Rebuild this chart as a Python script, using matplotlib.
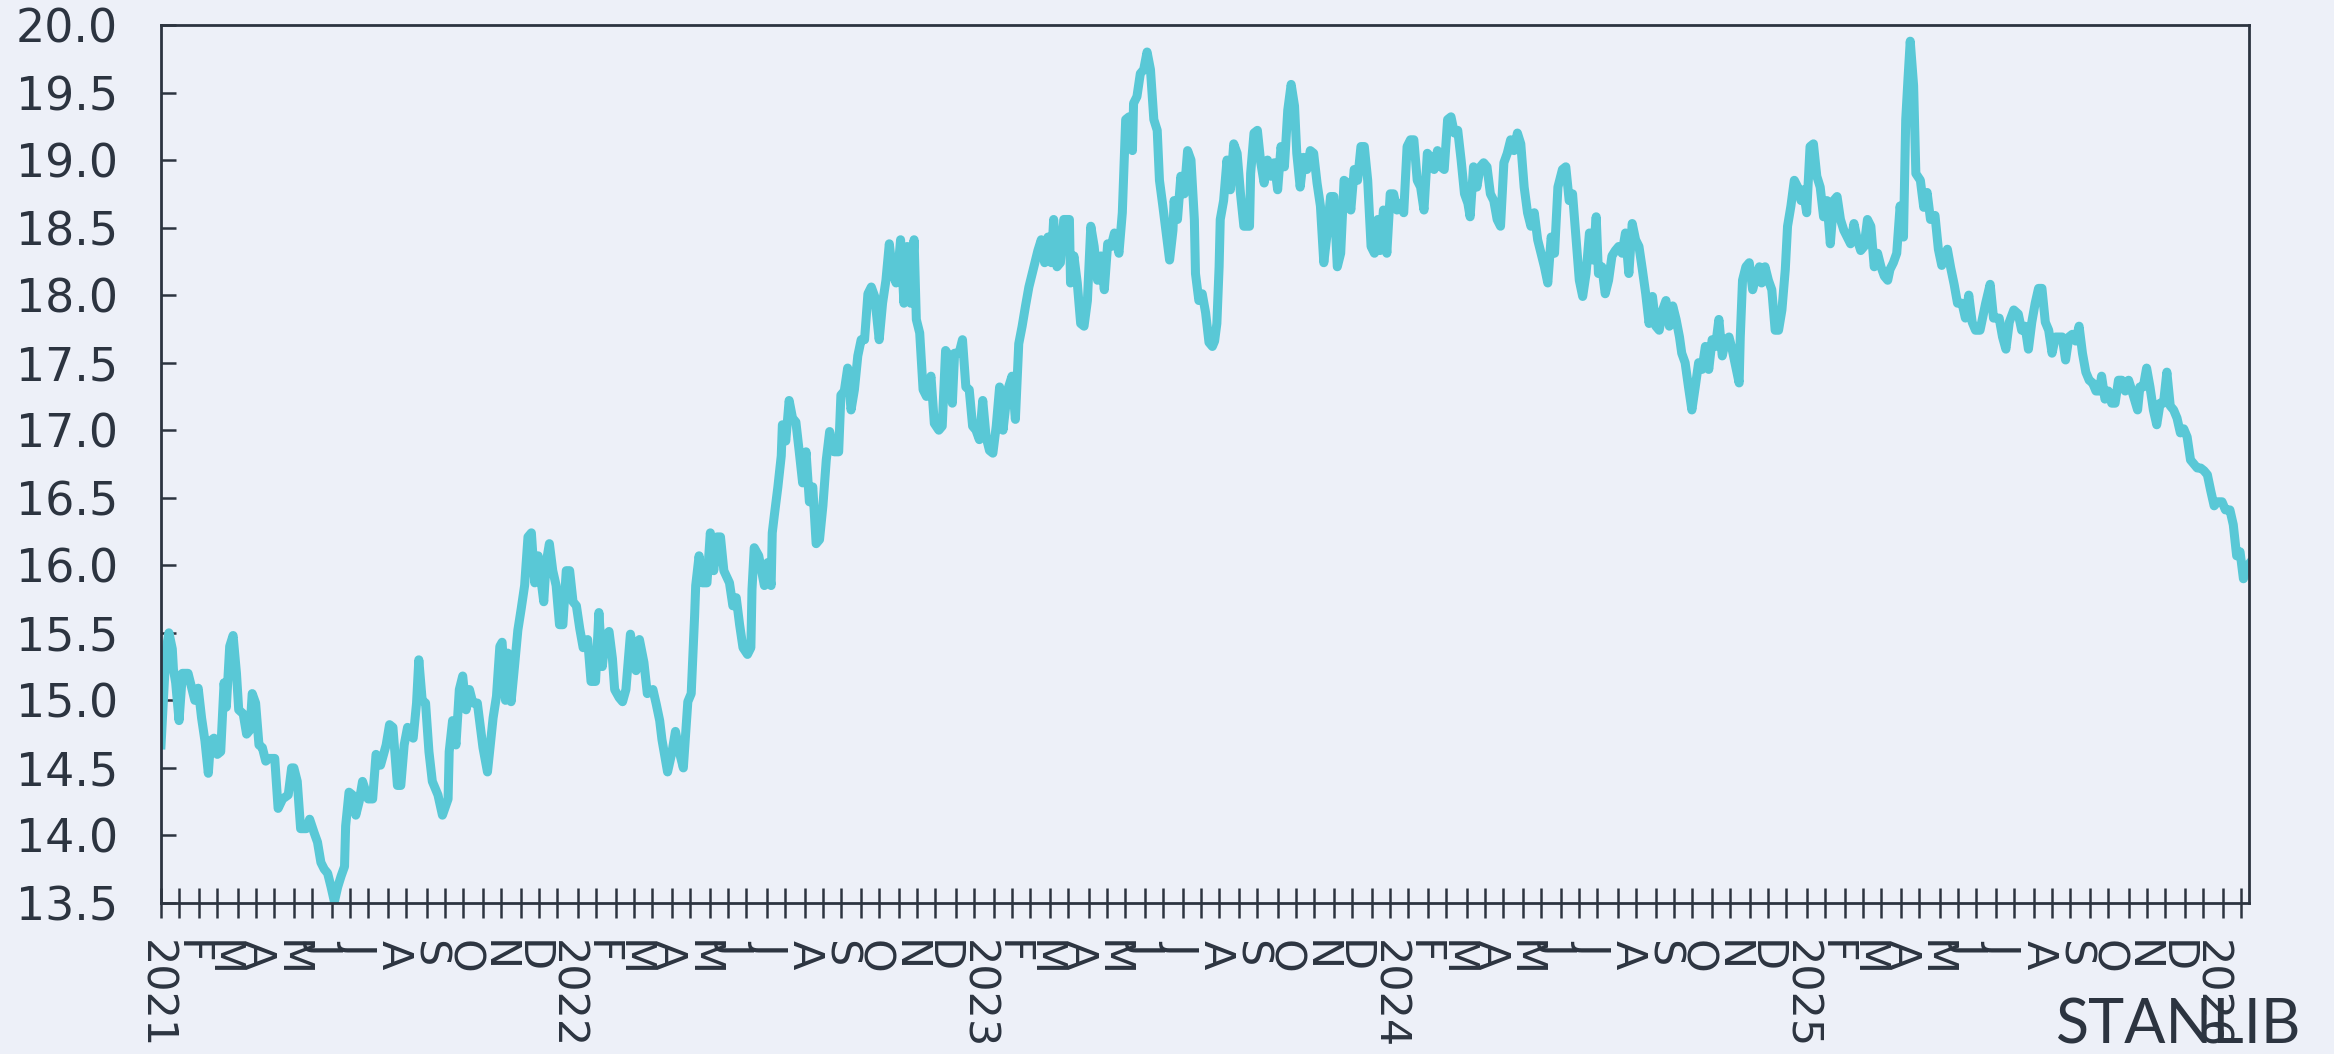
import matplotlib.pyplot as plt
import matplotlib.dates as mdates
from matplotlib.ticker import FormatStrFormatter, NullFormatter
import numpy as np
import pandas as pd

# USD/ZAR: day = days since 1 Jan 2021
day = [5, 8, 10, 12, 15, 16, 18, 21, 24, 29, 32, 35, 38, 41, 44, 45, 47, 49, 52, 55,
       58, 61, 63, 66, 69, 72, 74, 78, 81, 84, 86, 89, 92, 95, 98, 101, 106, 109, 113, 118,
       121, 123, 126, 129, 134, 137, 141, 144, 147, 150, 153, 156, 159, 162, 165, 168, 169, 172, 175, 178,
       181, 184, 189, 193, 196, 200, 205, 208, 211, 215, 218, 221, 224, 229, 232, 234, 237, 240, 243, 246,
       251, 255, 260, 261, 264, 267, 270, 273, 276, 279, 282, 286, 291, 295, 300, 303, 306, 308, 311, 313,
       316, 319, 322, 325, 328, 331, 334, 337, 340, 342, 345, 347, 350, 353, 356, 359, 362, 365, 368, 371,
       374, 377, 380, 384, 387, 391, 394, 397, 400, 403, 406, 408, 412, 415, 418, 422, 427, 430, 434, 437,
       442, 445, 448, 450, 455, 459, 462, 466, 469, 473, 476, 479, 480, 483, 486, 490, 493, 496, 499, 502,
       505, 510, 513, 516, 519, 522, 526, 529, 530, 532, 536, 541, 544, 547, 548, 550, 553, 556, 557, 560,
       563, 566, 569, 572, 575, 578, 581, 584, 587, 590, 593, 596, 599, 603, 607, 609, 612, 615, 618, 621,
       624, 627, 630, 633, 636, 639, 643, 646, 649, 652, 655, 658, 661, 662, 665, 668, 671, 674, 676, 679,
       682, 685, 689, 692, 696, 699, 702, 705, 708, 710, 714, 717, 720, 723, 726, 729, 732, 735, 738, 741,
       744, 747, 750, 753, 756, 758, 761, 764, 767, 770, 773, 776, 779, 784, 787, 790, 793, 796, 798, 801,
       804, 807, 812, 813, 816, 819, 822, 825, 828, 831, 834, 837, 840, 843, 846, 849, 852, 856, 859, 862,
       865, 868, 869, 872, 875, 878, 881, 884, 887, 890, 892, 895, 898, 901, 904, 905, 908, 911, 914, 917,
       920, 923, 924, 927, 930, 933, 936, 939, 941, 943, 945, 946, 949, 952, 955, 958, 961, 964, 967, 972,
       973, 976, 979, 982, 985, 988, 991, 994, 997, 1000, 1003, 1006, 1009, 1012, 1014, 1017, 1020, 1023, 1026, 1029,
       1032, 1035, 1038, 1041, 1044, 1047, 1050, 1053, 1056, 1059, 1062, 1065, 1068, 1071, 1074, 1077, 1080, 1083, 1086, 1088,
       1091, 1094, 1097, 1100, 1103, 1106, 1109, 1112, 1115, 1118, 1121, 1124, 1127, 1130, 1133, 1136, 1139, 1142, 1145, 1148,
       1151, 1154, 1157, 1160, 1163, 1166, 1168, 1171, 1174, 1177, 1180, 1183, 1186, 1189, 1192, 1195, 1198, 1201, 1204, 1207,
       1210, 1213, 1216, 1219, 1222, 1225, 1228, 1231, 1234, 1237, 1240, 1243, 1246, 1250, 1253, 1256, 1259, 1262, 1265, 1268,
       1271, 1274, 1277, 1280, 1282, 1285, 1288, 1291, 1294, 1297, 1300, 1303, 1306, 1309, 1312, 1315, 1318, 1321, 1324, 1327,
       1330, 1333, 1336, 1339, 1342, 1345, 1348, 1351, 1354, 1356, 1359, 1362, 1365, 1368, 1371, 1374, 1377, 1380, 1383, 1386,
       1389, 1392, 1395, 1398, 1401, 1404, 1407, 1408, 1410, 1413, 1416, 1419, 1422, 1425, 1427, 1430, 1433, 1436, 1439, 1442,
       1445, 1448, 1450, 1453, 1456, 1459, 1462, 1464, 1467, 1470, 1473, 1476, 1479, 1482, 1485, 1488, 1491, 1494, 1497, 1500,
       1503, 1506, 1509, 1512, 1515, 1518, 1521, 1524, 1527, 1530, 1533, 1536, 1539, 1541, 1544, 1547, 1550, 1553, 1555, 1557,
       1559, 1562, 1564, 1568, 1571, 1574, 1577, 1581, 1584, 1587, 1592, 1595, 1598, 1601, 1605, 1608, 1611, 1614, 1617, 1621,
       1626, 1630, 1633, 1638, 1641, 1644, 1647, 1651, 1655, 1658, 1661, 1664, 1667, 1670, 1673, 1676, 1679, 1682, 1685, 1688,
       1691, 1694, 1697, 1700, 1703, 1706, 1709, 1712, 1715, 1718, 1721, 1724, 1727, 1729, 1732, 1735, 1738, 1741, 1744, 1747,
       1750, 1753, 1756, 1761, 1763, 1766, 1769, 1772, 1775, 1778, 1781, 1784, 1787, 1790, 1793, 1796, 1799, 1802, 1805, 1808,
       1811, 1814, 1817, 1820, 1823, 1826, 1829, 1832, 1836, 1839, 1843, 1846, 1849, 1852, 1855, 1858, 1860]

usdzar = [14.67, 15.15, 15.40, 15.50, 15.38, 15.23, 15.13, 14.85, 15.20, 15.20, 15.10, 15.00, 15.09, 14.87, 14.70, 14.62, 14.46, 14.70, 14.72, 14.60,
          14.62, 15.13, 14.95, 15.40, 15.48, 15.20, 14.93, 14.90, 14.75, 14.78, 15.05, 14.98, 14.67, 14.65, 14.55, 14.57, 14.57, 14.20, 14.27, 14.30,
          14.50, 14.50, 14.40, 14.05, 14.05, 14.12, 14.02, 13.95, 13.80, 13.75, 13.72, 13.62, 13.51, 13.62, 13.70, 13.77, 14.07, 14.32, 14.30, 14.15,
          14.25, 14.40, 14.27, 14.27, 14.60, 14.52, 14.67, 14.82, 14.80, 14.37, 14.37, 14.67, 14.80, 14.72, 14.98, 15.30, 15.00, 14.98, 14.62, 14.40,
          14.30, 14.15, 14.27, 14.62, 14.85, 14.67, 15.08, 15.18, 14.93, 15.08, 14.98, 14.98, 14.65, 14.47, 14.87, 15.03, 15.40, 15.43, 15.00, 15.35,
          14.99, 15.25, 15.52, 15.68, 15.85, 16.21, 16.24, 15.87, 16.07, 15.93, 15.73, 16.01, 16.16, 15.96, 15.85, 15.56, 15.56, 15.96, 15.96, 15.73,
          15.70, 15.53, 15.39, 15.45, 15.14, 15.14, 15.65, 15.25, 15.48, 15.51, 15.31, 15.08, 15.02, 14.99, 15.08, 15.49, 15.22, 15.45, 15.28, 15.05,
          15.08, 14.97, 14.85, 14.71, 14.47, 14.62, 14.77, 14.60, 14.50, 14.99, 15.05, 15.62, 15.85, 16.07, 15.87, 15.87, 16.24, 15.96, 16.21, 16.21,
          15.96, 15.87, 15.70, 15.76, 15.56, 15.39, 15.34, 15.39, 15.82, 16.13, 16.07, 15.85, 16.02, 15.85, 16.24, 16.38, 16.58, 16.81, 17.04, 16.92,
          17.22, 17.09, 17.06, 16.84, 16.61, 16.84, 16.47, 16.58, 16.16, 16.19, 16.44, 16.78, 16.99, 16.84, 16.84, 17.26, 17.29, 17.46, 17.15, 17.30,
          17.55, 17.67, 17.67, 18.01, 18.06, 17.99, 17.67, 17.94, 18.11, 18.38, 18.16, 18.09, 18.31, 18.41, 17.94, 18.36, 17.94, 18.41, 17.82, 17.72,
          17.30, 17.25, 17.40, 17.05, 17.00, 17.03, 17.59, 17.55, 17.20, 17.57, 17.57, 17.67, 17.32, 17.30, 17.03, 17.00, 16.93, 17.22, 16.95, 16.85,
          16.83, 17.03, 17.32, 17.00, 17.22, 17.32, 17.40, 17.08, 17.64, 17.77, 17.92, 18.06, 18.16, 18.33, 18.41, 18.24, 18.43, 18.24, 18.56, 18.21,
          18.24, 18.56, 18.56, 18.09, 18.29, 18.09, 17.79, 17.77, 17.96, 18.51, 18.36, 18.11, 18.29, 18.04, 18.38, 18.36, 18.46, 18.31, 18.61, 19.30,
          19.32, 19.07, 19.42, 19.47, 19.64, 19.67, 19.80, 19.67, 19.30, 19.22, 18.85, 18.66, 18.46, 18.26, 18.48, 18.70, 18.56, 18.88, 18.75, 19.07,
          19.00, 18.56, 18.16, 17.96, 18.01, 17.87, 17.65, 17.62, 17.66, 17.79, 18.21, 18.56, 18.70, 19.00, 18.78, 19.12, 19.05, 18.75, 18.51, 18.51,
          18.90, 19.20, 19.22, 18.98, 18.83, 19.00, 18.88, 18.98, 18.78, 19.10, 18.95, 19.37, 19.56, 19.40, 19.05, 18.80, 19.02, 18.93, 19.07, 19.05,
          18.83, 18.66, 18.24, 18.46, 18.73, 18.73, 18.21, 18.31, 18.85, 18.83, 18.63, 18.93, 18.85, 19.10, 19.10, 18.85, 18.36, 18.31, 18.56, 18.33,
          18.63, 18.31, 18.75, 18.75, 18.63, 18.68, 18.61, 19.10, 19.15, 19.15, 18.85, 18.80, 18.63, 19.05, 19.02, 18.93, 19.07, 18.95, 18.93, 19.30,
          19.32, 19.20, 19.22, 19.00, 18.75, 18.68, 18.58, 18.95, 18.80, 18.95, 18.98, 18.95, 18.75, 18.70, 18.56, 18.51, 18.98, 19.05, 19.15, 19.07,
          19.20, 19.12, 18.80, 18.61, 18.51, 18.61, 18.41, 18.31, 18.21, 18.09, 18.43, 18.31, 18.80, 18.93, 18.95, 18.70, 18.75, 18.43, 18.11, 17.99,
          18.16, 18.46, 18.26, 18.58, 18.16, 18.21, 18.01, 18.11, 18.29, 18.33, 18.36, 18.31, 18.46, 18.16, 18.53, 18.41, 18.36, 18.19, 18.01, 17.79,
          17.99, 17.77, 17.74, 17.89, 17.96, 17.77, 17.92, 17.82, 17.69, 17.57, 17.50, 17.32, 17.15, 17.32, 17.50, 17.45, 17.62, 17.45, 17.67, 17.62,
          17.82, 17.55, 17.67, 17.69, 17.59, 17.47, 17.35, 17.69, 18.11, 18.21, 18.24, 18.04, 18.14, 18.21, 18.09, 18.21, 18.11, 18.04, 17.74, 17.74,
          17.89, 18.19, 18.51, 18.66, 18.85, 18.80, 18.70, 18.78, 18.61, 19.10, 19.12, 18.88, 18.80, 18.58, 18.70, 18.38, 18.70, 18.73, 18.56, 18.48,
          18.43, 18.38, 18.53, 18.41, 18.33, 18.36, 18.56, 18.51, 18.21, 18.31, 18.21, 18.14, 18.11, 18.19, 18.24, 18.31, 18.66, 18.43, 19.30, 19.60,
          19.88, 19.55, 18.90, 18.85, 18.65, 18.76, 18.56, 18.59, 18.34, 18.22, 18.34, 18.20, 18.08, 17.94, 17.94, 17.83, 18.00, 17.80, 17.74, 17.74,
          17.94, 18.08, 17.83, 17.83, 17.69, 17.60, 17.80, 17.89, 17.86, 17.74, 17.77, 17.60, 17.80, 17.94, 18.05, 18.05, 17.80, 17.74, 17.57, 17.69,
          17.69, 17.69, 17.52, 17.69, 17.71, 17.66, 17.77, 17.57, 17.43, 17.37, 17.35, 17.29, 17.29, 17.40, 17.23, 17.29, 17.20, 17.20, 17.37, 17.37,
          17.29, 17.37, 17.29, 17.15, 17.32, 17.32, 17.46, 17.32, 17.15, 17.04, 17.20, 17.20, 17.43, 17.18, 17.15, 17.09, 16.98, 17.01, 16.95, 16.78,
          16.75, 16.72, 16.72, 16.70, 16.67, 16.55, 16.44, 16.47, 16.47, 16.41, 16.41, 16.30, 16.07, 16.10, 15.90, 15.99, 16.01]

month_letters = ['J', 'F', 'M', 'A', 'M', 'J', 'J', 'A', 'S', 'O', 'N', 'D']
y_ticks = [13.5, 14.0, 14.5, 15.0, 15.5, 16.0, 16.5, 17.0, 17.5, 18.0, 18.5, 19.0, 19.5, 20.0]

bg = '#edf0f8'
ink = '#2c3440'
cyan = '#59c8d6'

dates = pd.Timestamp('2021-01-01') + pd.to_timedelta(day, unit='D')

fig = plt.figure(figsize=(23.34, 10.54), dpi=100, facecolor=bg)
ax = fig.add_axes([0.0690, 0.1433, 0.8946, 0.8330])
ax.set_facecolor(bg)

ax.plot(dates, usdzar, color=cyan, lw=6.5)

ax.set_xlim(dates[0], dates[-1])
ax.set_ylim(13.5, 20.0)
ax.set_yticks(y_ticks)
ax.yaxis.set_major_formatter(FormatStrFormatter('%.1f'))
ax.tick_params(axis='y', direction='in', length=11, width=1.8, color=ink,
               labelsize=33, labelcolor=ink, pad=31)
for s in ax.spines.values():
    s.set_color(ink)
    s.set_linewidth(2)

# tick marks every 12 trading days, month labels placed separately
ax.set_xticks([])
ax.set_xticks(pd.bdate_range(dates[0], dates[-1])[::12], minor=True)
ax.xaxis.set_minor_formatter(NullFormatter())
ax.tick_params(axis='x', which='minor', direction='inout', length=21.6, width=1.8, color=ink)

months = pd.date_range('2021-01-01', '2026-01-01', freq='MS')
for m in months:
    lab = str(m.year) if m.month == 1 else month_letters[m.month - 1]
    ax.annotate(lab, xy=(mdates.date2num(m), 0), xycoords=('data', 'axes fraction'),
                xytext=(0, -27), textcoords='offset points', rotation=270,
                ha='center', va='top', fontsize=31, color=ink, annotation_clip=False)

fig.text(0.8809, 0.0104, 'STANLIB', fontsize=44, family='Lato', color=ink, va='baseline', ha='left')

fig.savefig('out.png', dpi=100, facecolor=bg)
